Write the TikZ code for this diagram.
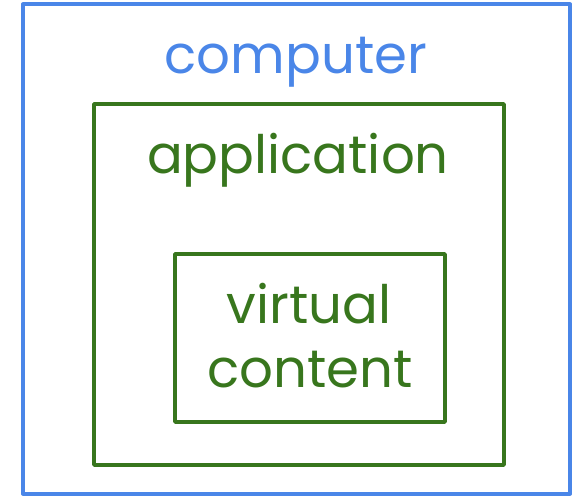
\documentclass[tikz,border=0pt]{standalone}
\usepackage{fontspec}
\setmainfont{Poppins}
\definecolor{compblue}{HTML}{4A86E8}
\definecolor{appgreen}{HTML}{38761D}
\begin{document}
\begin{tikzpicture}[x=1pt,y=-1pt,
  boxline/.style={line width=#1, line join=round},
  lbl/.style={anchor=base, inner sep=0pt, font=\fontsize{53}{64}\selectfont, align=center}]
\useasboundingbox (0,0) rectangle (575,497);
\draw[boxline=4pt, compblue] (23,4.5) rectangle (570,493.5);
\draw[boxline=3.6pt, appgreen] (94,104) rectangle (504,465);
\draw[boxline=3.6pt, appgreen] (175,254) rectangle (445,422);
\node[lbl, text=compblue] (computer) at (296,74) {computer};
\node[lbl, text=appgreen] (application) at (298,174) {application};
\node[lbl, text=appgreen] (virtual) at (309,323) {virtual};
\node[lbl, text=appgreen] (content) at (310,387) {content};
\end{tikzpicture}
\end{document}
